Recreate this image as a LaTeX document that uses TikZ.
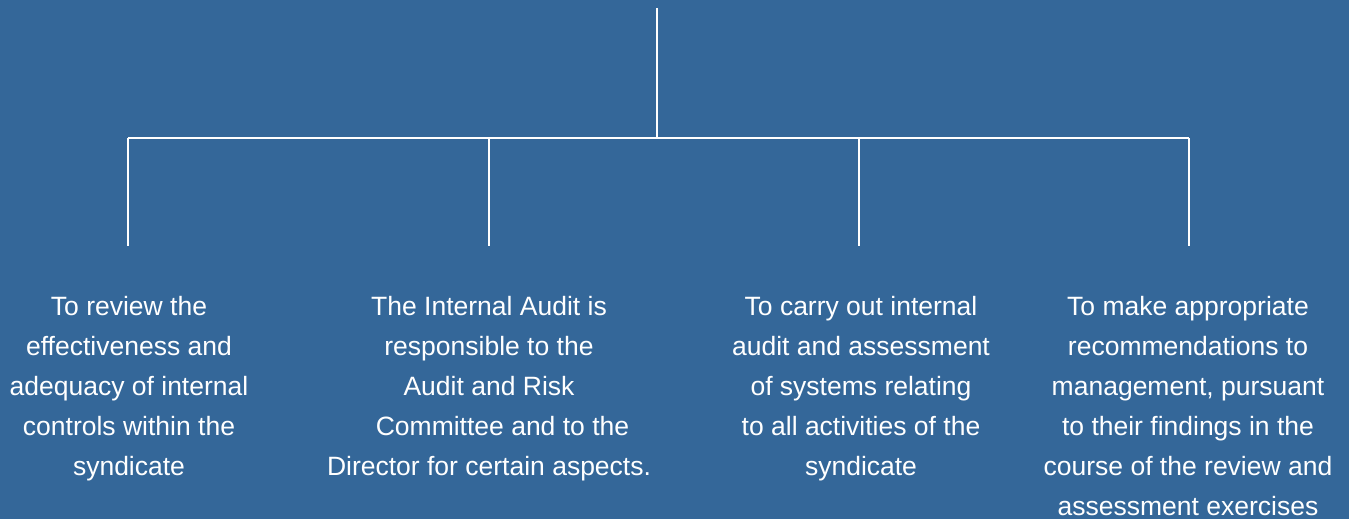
\documentclass[tikz,border=0pt]{standalone}
\usepackage{fontspec}
\setmainfont{Liberation Sans}
\definecolor{panelblue}{RGB}{52,103,153}
\begin{document}
\begin{tikzpicture}[x=1pt,y=-1pt,
  wire/.style={draw=white,line width=2.4pt},
  duty/.style={text=white,align=center,anchor=north,inner sep=0pt,
    font=\fontsize{26.5}{40}\selectfont}]
  % canvas
  \fill[panelblue] (0,0) rectangle (1349,519);
  \useasboundingbox (0,0) rectangle (1349,519);

  % tree skeleton
  \coordinate (top) at (657,8);
  \coordinate (hub) at (657,138);
  \coordinate (b1) at (128,138);
  \coordinate (b2) at (489,138);
  \coordinate (b3) at (859,138);
  \coordinate (b4) at (1189,138);
  \coordinate (e1) at (128,246);
  \coordinate (e2) at (489,246);
  \coordinate (e3) at (859,246);
  \coordinate (e4) at (1189,246);

  \draw[wire] (top) -- (hub);
  \draw[wire] (b1) -- (b4);
  \foreach \i in {1,...,4} \draw[wire] (b\i) -- (e\i);

  % duty descriptions
  \node[duty] (d1) at (129,296) {To review the\\effectiveness and\\adequacy of internal\\controls within the\\syndicate};
  \node[duty] (d2) at (489,296) {The Internal Audit is\\responsible to the\\Audit and Risk\\\hspace*{27pt}Committee and to the\\Director for certain aspects.};
  \node[duty] (d3) at (861,296) {To carry out internal\\audit and assessment\\of systems relating\\to all activities of the\\syndicate};
  \node[duty] (d4) at (1188,296) {To make appropriate\\recommendations to\\management, pursuant\\to their findings in the\\course of the review and\\assessment exercises};
\end{tikzpicture}
\end{document}
